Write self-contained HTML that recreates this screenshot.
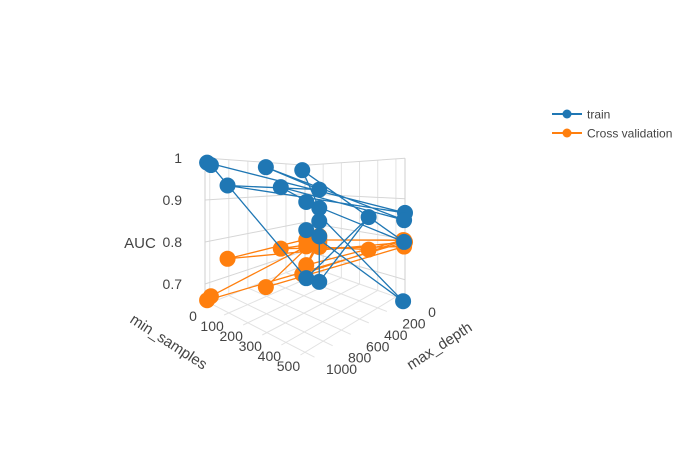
<!DOCTYPE html>
<html><head><meta charset="utf-8"><style>
body{margin:0;background:#fff;}
svg{display:block;font-family:"Liberation Sans",sans-serif;}
</style></head><body>
<svg id="chart" width="700" height="450">
<g id="grid"></g>
<g id="series"></g>
<g id="axes"></g>
<g>
 <g>
  <line x1="552" y1="114" x2="582" y2="114" stroke="#1f77b4" stroke-width="2"/>
  <circle cx="567" cy="114" r="4.5" fill="#1f77b4"/>
  <text x="587" y="118.5" font-size="12" fill="#444">train</text>
 </g>
 <g>
  <line x1="552" y1="133" x2="582" y2="133" stroke="#ff7f0e" stroke-width="2"/>
  <circle cx="567" cy="133" r="4.5" fill="#ff7f0e"/>
  <text x="587" y="137.5" font-size="12" fill="#444">Cross validation</text>
 </g>
</g>
</svg>
<script>
const minSamples = [11,66,138,165,264,275,275,275,319,319,319,319,319,440,550,550,545,550,16];
const maxDepth   = [1050,945,683,578,546,525,525,525,473,473,473,473,473,179,0,10,0,21,1020];
const trainAUC   = [0.99,0.941,0.99,0.94,0.987,0.909,0.84,0.722,0.94,0.895,0.863,0.826,0.715,0.863,0.865,0.848,0.793,0.65,0.985];
const cvAUC      = [0.664,0.766,0.69,0.783,0.732,0.816,0.754,0.80,0.827,0.81,0.82,0.815,0.80,0.782,0.793,0.783,0.797,0.80,0.672];
const order      = [0,14,1,8,2,15,3,9,4,16,5,17,6,10,11,12,13,7,18];
const msTicks = [0,100,200,300,400,500];
const mdTicks = [0,200,400,600,800,1000];
const aucTicks = [0.7,0.8,0.9,1];

const MS_MAX=550, MD_MAX=1050, Z0=0.65, Z1=1.0;
const B=[305,265,285], R=[405,300,405], L=[205,305,420], F=[310,360,520];
function proj(ms,md,z){
  const a=ms/MS_MAX, b=md/MD_MAX;
  const w=[(1-a)*(1-b),a*(1-b),(1-a)*b,a*b];
  const c=[B,R,L,F];
  let x=0,y=0,s=0;
  for(let i=0;i<4;i++){x+=w[i]*c[i][0];y+=w[i]*c[i][1];s+=w[i]*c[i][2];}
  return [x,y-s*(z-Z0)];
}
const NS='http://www.w3.org/2000/svg';
function mk(tag,attrs,parent){const e=document.createElementNS(NS,tag);for(const k in attrs)e.setAttribute(k,attrs[k]);parent.appendChild(e);return e;}
function ln(p,q,col,parent,w){return mk('line',{x1:p[0],y1:p[1],x2:q[0],y2:q[1],stroke:col,'stroke-width':w||1},parent);}
const grid=document.getElementById('grid');
const gc='#e2e2e2';
msTicks.forEach(v=>{
  let e=ln(proj(v,0,Z0),proj(v,MD_MAX,Z0),gc,grid);
  
  
  e=ln(proj(v,0,Z0),proj(v,0,Z1),gc,grid);
  
  
});
mdTicks.forEach(v=>{
  let e=ln(proj(0,v,Z0),proj(MS_MAX,v,Z0),gc,grid);
  
  
  e=ln(proj(0,v,Z0),proj(0,v,Z1),gc,grid);
  
  
});
aucTicks.forEach(v=>{
  let e=mk('polyline',{points:[proj(0,MD_MAX,v),proj(0,0,v),proj(MS_MAX,0,v)].map(p=>p.join(',')).join(' '),fill:'none',stroke:'#d6d6d6','stroke-width':1},grid);
  
  
});
[[proj(0,MD_MAX,Z0),proj(0,MD_MAX,Z1)],[proj(MS_MAX,0,Z0),proj(MS_MAX,0,Z1)],[proj(0,0,Z0),proj(0,0,Z1)]].forEach(s=>{
  const e=ln(s[0],s[1],'#cfcfcf',grid);
  
  
});
const series=document.getElementById('series');
function drawSeries(vals,col,name){
  const pts=order.map(i=>proj(minSamples[i],maxDepth[i],vals[i]));
  const pl=mk('polyline',{points:pts.map(p=>p.join(',')).join(' '),fill:'none',stroke:col,'stroke-width':1.3},series);
  
  
  pts.forEach(p=>{
    const c=mk('circle',{cx:p[0],cy:p[1],r:8,fill:col},series);
    
    
  });
}
drawSeries(cvAUC,'#ff7f0e','cv');
drawSeries(trainAUC,'#1f77b4','train');
const axes=document.getElementById('axes');
aucTicks.forEach(v=>{
  const p=proj(0,MD_MAX,v);
  const t=mk('text',{x:p[0]-23,y:p[1]+5,'font-size':14,fill:'#444','text-anchor':'end'},axes);
  t.textContent=String(v);
  
  
});
msTicks.forEach(v=>{
  const p=proj(v,MD_MAX,Z0);
  const t=mk('text',{x:p[0]-12,y:p[1]+16,'font-size':14,fill:'#444','text-anchor':'middle'},axes);
  t.textContent=String(v);
  
  
});
mdTicks.forEach(v=>{
  const p=proj(MS_MAX,v,Z0);
  const t=mk('text',{x:p[0]+27,y:p[1]+17,'font-size':14,fill:'#444','text-anchor':'middle'},axes);
  t.textContent=String(v);
  
  
});
let t=mk('text',{x:140,y:248,'font-size':15,fill:'#444','text-anchor':'middle'},axes);
t.textContent='AUC';


t=mk('text',{x:166,y:346,'font-size':15,fill:'#444','text-anchor':'middle',transform:'rotate(33 166 346)'},axes);
t.textContent='min_samples';


t=mk('text',{x:442,y:350,'font-size':15,fill:'#444','text-anchor':'middle',transform:'rotate(-33 442 350)'},axes);
t.textContent='max_depth';


</script>
</body></html>
